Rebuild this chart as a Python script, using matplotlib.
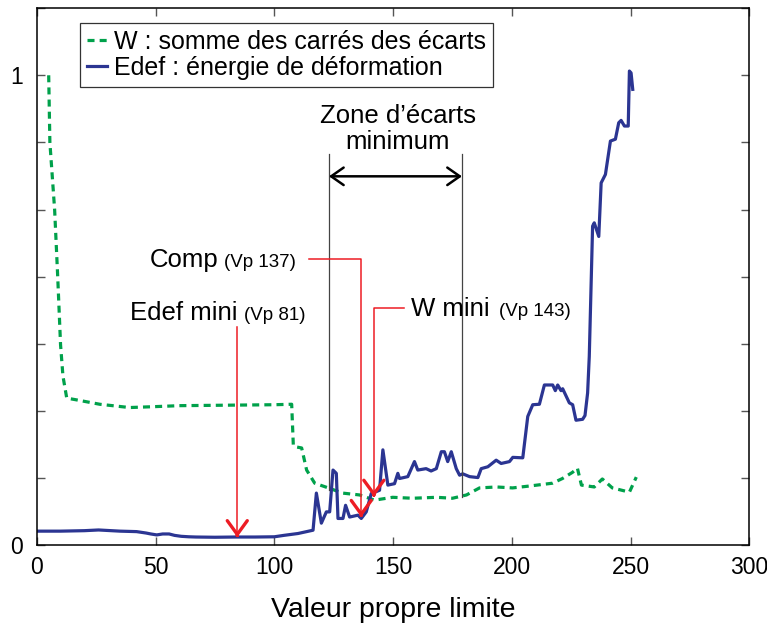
import numpy as np
import matplotlib
matplotlib.use("Agg")
import matplotlib.pyplot as plt

plt.rcParams['font.family'] = ['Liberation Sans', 'DejaVu Sans']

# W : somme des carrés des écarts (normalisée)
w_x = [5, 5.5, 7.5, 8.8, 10, 11, 12.6, 16, 26.5, 39, 50, 60, 80, 100, 107.3,
       108.0, 109.4, 111.5, 113.6, 117.0, 123.3, 128.7, 135.9, 142.2, 149.8,
       158.2, 168.3, 175.0, 180.9, 186.4, 193.5, 200.3, 207.4, 217.1, 221.3,
       225.5, 227.6, 229.3, 234.7, 238.1, 242.3, 249.5, 252.4]
w_y = [1.0, 0.857, 0.714, 0.571, 0.426, 0.36, 0.313, 0.310, 0.300, 0.293,
       0.295, 0.297, 0.298, 0.299, 0.300,
       0.212, 0.209, 0.207, 0.160, 0.132, 0.121, 0.111, 0.107, 0.096, 0.102,
       0.100, 0.102, 0.100, 0.107, 0.122, 0.124, 0.122, 0.126, 0.132, 0.142,
       0.155, 0.164, 0.128, 0.124, 0.141, 0.122, 0.113, 0.145]

# Edef : énergie de déformation (normalisée)
edef_x = [0, 10, 20, 26, 35, 42, 46, 48, 50.5, 53, 55.7, 58, 60.8, 64, 67, 75,
          83.5, 92, 100, 104, 110, 116.3, 117.7, 119.8, 121.9, 123.3, 124.7,
          126.1, 126.8, 128.9, 130, 131.7, 135.2, 136.6, 138.7, 140.8, 144.3,
          145.7, 147.8, 150.6, 152, 152.7, 156.2, 159, 160.4, 163.9, 166, 168.2,
          170.3, 171.6, 173.0, 174.5, 176.6, 178, 179.3, 182.2, 185.7, 187.1,
          189.9, 193.4, 195.5, 199, 200.4, 204.6, 206.7, 208.8, 211.6, 213.7,
          217.2, 218.3, 219.3, 220.7, 221.4, 224.2, 225.6, 227, 229.8, 230.8,
          231.9, 232.6, 234, 234.7, 236.6, 237.6, 239.4, 241.5, 243.6, 245,
          246, 247.4, 249, 249.5, 250.2, 250.9]
edef_y = [0.030, 0.030, 0.031, 0.0325, 0.030, 0.029, 0.026, 0.024, 0.022,
          0.024, 0.024, 0.021, 0.019, 0.018, 0.0175, 0.017, 0.0175, 0.0175,
          0.018, 0.021, 0.025, 0.032, 0.111, 0.047, 0.071, 0.071, 0.160,
          0.153, 0.057, 0.057, 0.085, 0.060, 0.064, 0.057, 0.071, 0.110, 0.117,
          0.203, 0.128, 0.131, 0.153, 0.142, 0.146, 0.178, 0.160, 0.163, 0.158,
          0.163, 0.199, 0.199, 0.178, 0.199, 0.163, 0.149, 0.152, 0.146, 0.144,
          0.163, 0.167, 0.181, 0.174, 0.178, 0.187, 0.186, 0.274, 0.299, 0.300,
          0.341, 0.341, 0.329, 0.341, 0.329, 0.333, 0.303, 0.299, 0.266, 0.268,
          0.276, 0.324, 0.402, 0.679, 0.686, 0.657, 0.771, 0.789, 0.860, 0.864,
          0.899, 0.904, 0.892, 0.892, 1.009, 1.005, 0.970]

# zone d'écarts minimum et repères
zone_bounds = [123, 179]
zone_bottoms = [0.117, 0.102]
vp_edef, vp_comp, vp_w = 84.4, 136.6, 141.9

green = '#00a14b'
blue = '#2b3592'
red = '#ed1c24'
big = 18.5
small = 13.5

fig = plt.figure(figsize=(7.67, 6.26), dpi=100)
ax = fig.add_axes([0.048, 0.129, 0.929, 0.858])

ax.plot(w_x, w_y, color=green, lw=2.3, ls=(0, (2.2, 1.6)),
        label='W : somme des carrés des écarts')
ax.plot(edef_x, edef_y, color=blue, lw=2.3,
        label='Edef : énergie de déformation')

ax.set_xlim(0, 300)
ax.set_ylim(0, 8 / 7)
ax.set_xticks(np.arange(0, 301, 50))
ax.set_yticks(np.arange(9) / 7)
ax.set_yticklabels(['0', '', '', '', '', '', '', '1', ''])
ax.tick_params(direction='in', length=6, width=1, top=True, right=True,
               labelsize=16.5, color='#555555')
ax.tick_params(axis='x', pad=8)
ax.tick_params(axis='y', pad=10)
for s in ax.spines.values():
    s.set_linewidth(1.1)
ax.set_xlabel('Valeur propre limite', fontsize=20.5, labelpad=13)

# zone d'écarts minimum
for xb, yb in zip(zone_bounds, zone_bottoms):
    ax.plot([xb, xb], [yb, 0.832], color='#444444', lw=0.9)
ax.annotate('', xy=(zone_bounds[1], 0.785), xytext=(zone_bounds[0], 0.785),
            arrowprops=dict(arrowstyle='<->,head_length=0.5,head_width=0.35',
                            color='black', lw=1.8, mutation_scale=18,
                            shrinkA=0, shrinkB=0))
ax.text(152, 0.885, 'Zone d\u2019écarts\nminimum', ha='center', va='center',
        fontsize=big, linespacing=1.1)

# repères rouges
head = dict(arrowstyle='->,head_length=0.55,head_width=0.4', color=red,
            lw=2.4, mutation_scale=18, shrinkA=0, shrinkB=0)

ax.plot([vp_edef, vp_edef], [0.464, 0.02], color=red, lw=1.1)
ax.annotate('', xy=(vp_edef, 0.017), xytext=(vp_edef, 0.022), arrowprops=head)

ax.plot([114.4, vp_comp, vp_comp], [0.609, 0.609, 0.064], color=red, lw=1.1)
ax.annotate('', xy=(vp_comp, 0.060), xytext=(vp_comp, 0.065), arrowprops=head)

ax.plot([154.4, vp_w, vp_w], [0.505, 0.505, 0.107], color=red, lw=1.1)
ax.annotate('', xy=(vp_w, 0.103), xytext=(vp_w, 0.108), arrowprops=head)

ax.text(76.6, 0.591, 'Comp', ha='right', va='baseline', fontsize=big)
ax.text(78.7, 0.591, '(Vp 137)', ha='left', va='baseline', fontsize=small)
ax.text(84.7, 0.480, 'Edef mini', ha='right', va='baseline', fontsize=big)
ax.text(87.3, 0.480, '(Vp 81)', ha='left', va='baseline', fontsize=small)
ax.text(157.5, 0.487, 'W mini', ha='left', va='baseline', fontsize=big)
ax.text(194.5, 0.487, '(Vp 143)', ha='left', va='baseline', fontsize=small)

leg = ax.legend(loc='upper left', bbox_to_anchor=(0.06, 0.972),
                borderaxespad=0, fontsize=18, handlelength=0.8,
                handletextpad=0.3, labelspacing=0.08, borderpad=0.28,
                fancybox=False, framealpha=1, edgecolor='#333333')
leg.get_frame().set_linewidth(0.9)

fig.savefig('out.png', dpi=100)
